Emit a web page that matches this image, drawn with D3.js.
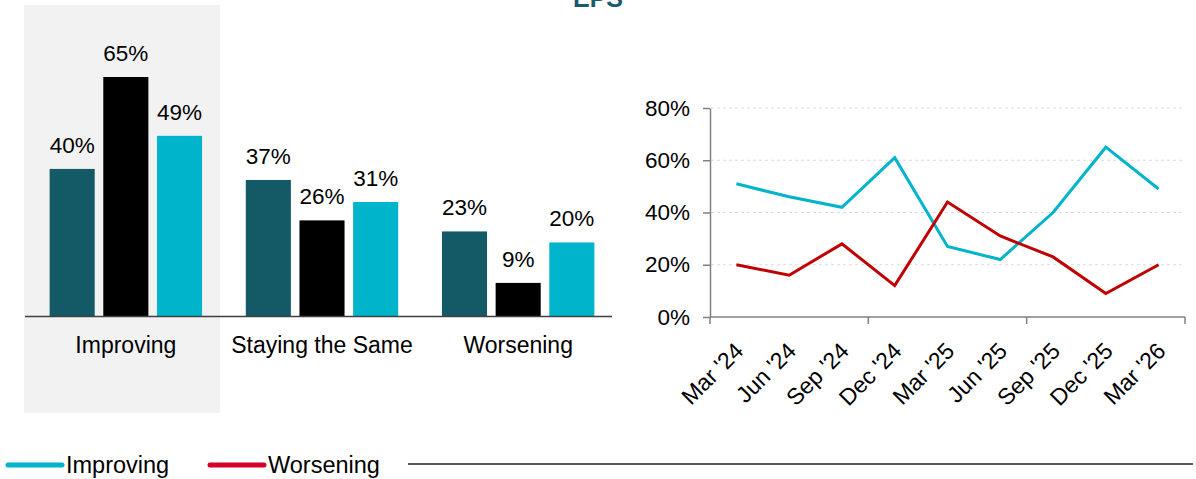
<!DOCTYPE html>
<html><head><meta charset="utf-8">
<script src="https://cdn.jsdelivr.net/npm/d3@7"></script>
<style>body{margin:0;background:#fff;font-family:Arial,"Liberation Sans",sans-serif;}</style>
</head><body><svg id="c" width="1196" height="479"></svg>
<script>
const barCategories = ["Improving", "Staying the Same", "Worsening"];
const barSeries = ["Sep '25", "Dec '25", "Mar '26"];
const barColors = ["#135a66", "#000000", "#00b4cc"];
const barValues = [
  [40, 65, 49],
  [37, 26, 31],
  [23, 9, 20]
];
const quarters = ["Mar '24","Jun '24","Sep '24","Dec '24","Mar '25","Jun '25","Sep '25","Dec '25","Mar '26"];
const improving = [51, 46, 42, 61, 27, 22, 40, 65, 49];
const worsening = [20, 16, 28, 12, 44, 31, 23, 9, 20];
const yTicks = [0, 20, 40, 60, 80];
const title = "EPS";

const svg = d3.select("#c");
const font = "Arial, 'Liberation Sans', sans-serif";

// title (cropped at top in the original)
svg.append("text").attr("x", 598).attr("y", 7).attr("text-anchor","middle")
  .attr("font-family", font).attr("font-weight","bold").attr("font-size", 25)
  .attr("fill","#1a5c6b").text(title);

// ---- Left: grouped bar chart ----
svg.append("rect").attr("x",24).attr("y",5).attr("width",196).attr("height",408).attr("fill","#f2f2f2");
const x0 = d3.scaleBand().domain(barCategories).range([30, 614]).paddingInner(0.223).paddingOuter(0.1);
const x1 = d3.scaleBand().domain(barSeries).range([0, x0.bandwidth()]).paddingInner(0.16);
const yb = d3.scaleLinear().domain([0, 65]).range([316, 77]);

const groups = svg.append("g").selectAll("g").data(barCategories).join("g")
  .attr("transform", d => `translate(${x0(d)},0)`);
groups.each(function(cat, ci){
  const g = d3.select(this);
  barSeries.forEach((s, si) => {
    const v = barValues[ci][si];
    g.append("rect").attr("x", x1(s)).attr("y", yb(v)).attr("width", x1.bandwidth())
      .attr("height", yb(0) - yb(v)).attr("fill", barColors[si]);
    g.append("text").attr("x", x1(s) + x1.bandwidth()/2).attr("y", yb(v) - 16)
      .attr("text-anchor","middle").attr("font-family", font).attr("font-size", 22.5)
      .attr("fill","#000").text(v + "%");
  });
});
svg.append("line").attr("x1",25).attr("x2",612).attr("y1",316.5).attr("y2",316.5)
  .attr("stroke","#404040").attr("stroke-width",1.5);
const xAxisB = svg.append("g").attr("transform","translate(0,316)")
  .call(d3.axisBottom(x0).tickSize(0).tickPadding(21));
xAxisB.select(".domain").remove();
xAxisB.selectAll("text").attr("font-family", font).attr("font-size", 23).attr("fill","#000");

// ---- Right: line chart ----
const xl = d3.scaleBand().domain(quarters).range([710, 1185]);
const yl = d3.scaleLinear().domain([0, 80]).range([317, 108]);
const gridG = svg.append("g");
yTicks.filter(t => t > 0).forEach(t => {
  gridG.append("line").attr("x1",711).attr("x2",1185).attr("y1",yl(t)).attr("y2",yl(t))
    .attr("stroke","#dcdcdc").attr("stroke-dasharray","3,3").attr("stroke-width",1);
});
const yAxis = svg.append("g").attr("transform","translate(710,0)")
  .call(d3.axisLeft(yl).tickValues(yTicks).tickFormat(d => d + "%").tickSize(7).tickSizeOuter(0).tickPadding(13));
yAxis.select(".domain").attr("stroke","#808080").attr("stroke-width",1.5);
yAxis.selectAll(".tick line").attr("stroke","#808080").attr("stroke-width",1.5);
yAxis.selectAll("text").attr("font-family", font).attr("font-size", 22.5).attr("fill","#000");

// x axis with ticks every 3 bands
const xAx = svg.append("g");
xAx.append("line").attr("x1",710).attr("x2",1185).attr("y1",317).attr("y2",317)
  .attr("stroke","#808080").attr("stroke-width",1.5);
[0,3,6,9].forEach(i => {
  const xx = i < quarters.length ? xl(quarters[i]) : xl.range()[1];
  xAx.append("line").attr("x1",xx).attr("x2",xx).attr("y1",317).attr("y2",324)
    .attr("stroke","#808080").attr("stroke-width",1.5);
});
quarters.forEach(q => {
  const cx = xl(q) + xl.bandwidth()/2;
  xAx.append("text").attr("transform", `translate(${cx-3},${341}) rotate(-45)`)
    .attr("text-anchor","end").attr("dy","0.7em")
    .attr("font-family", font).attr("font-size", 23).attr("fill","#000").text(q);
});

const line = d3.line().x((d,i) => xl(quarters[i]) + xl.bandwidth()/2).y(d => yl(d));
svg.append("path").datum(improving).attr("d", line).attr("fill","none")
  .attr("stroke","#00b4cc").attr("stroke-width",3);
svg.append("path").datum(worsening).attr("d", line).attr("fill","none")
  .attr("stroke","#c00000").attr("stroke-width",3);

// ---- Legend ----
const leg = [{name:"Improving", color:"#00b4cc", x:6}, {name:"Worsening", color:"#d6002a", x:208}];
leg.forEach(l => {
  svg.append("line").attr("x1", l.x + 2).attr("x2", l.x + 56).attr("y1", 465).attr("y2", 465)
    .attr("stroke", l.color).attr("stroke-width", 5).attr("stroke-linecap","round");
  svg.append("text").attr("x", l.x + 60).attr("y", 465).attr("dy","0.35em")
    .attr("font-family", font).attr("font-size", 23.5).attr("fill","#000").text(l.name);
});
svg.append("line").attr("x1",408).attr("x2",1193).attr("y1",464).attr("y2",464)
  .attr("stroke","#595959").attr("stroke-width",2);
</script></body></html>
